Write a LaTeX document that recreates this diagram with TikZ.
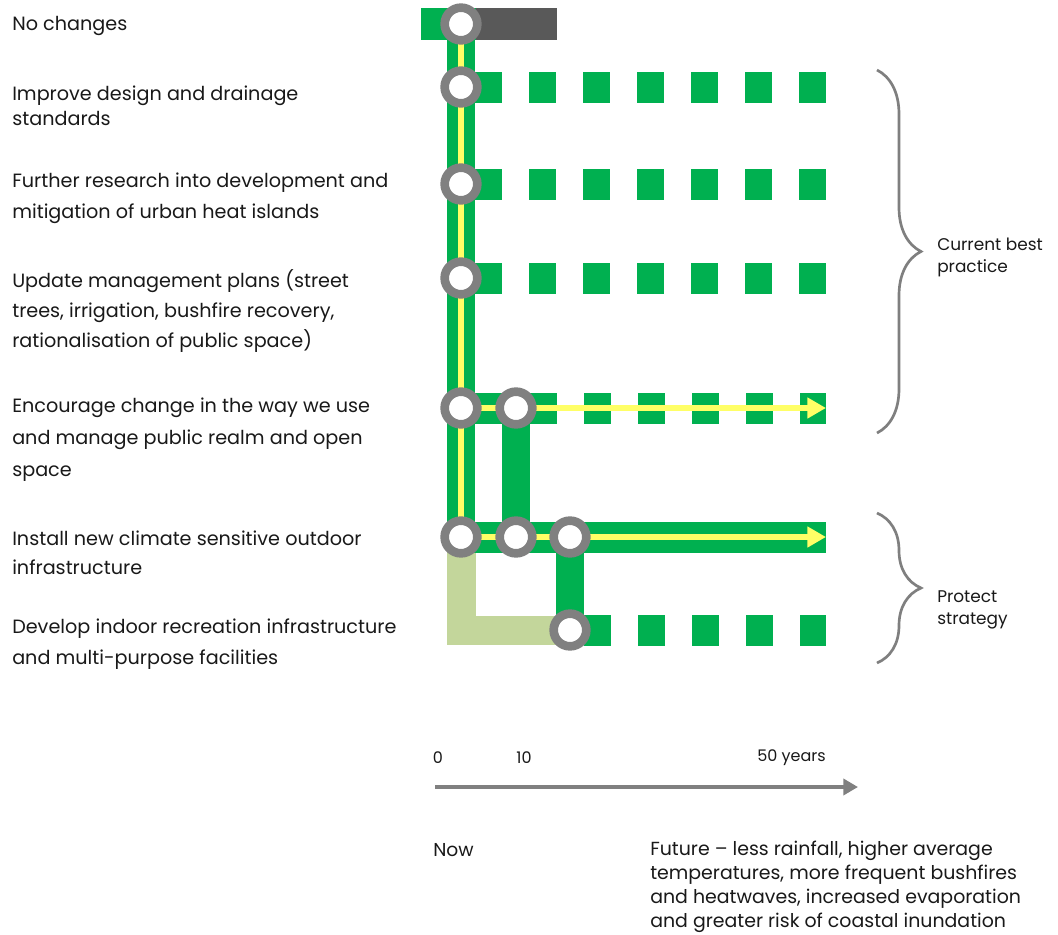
\documentclass[tikz,border=0pt]{standalone}
\usepackage{fontspec}
\setmainfont{Poppins}
\usetikzlibrary{arrows.meta,positioning,calc,decorations.pathreplacing}

\definecolor{trackgreen}{HTML}{00B050}
\definecolor{oldgreen}{HTML}{C3D69B}
\definecolor{darkbar}{HTML}{595959}
\definecolor{ringgrey}{HTML}{808080}
\definecolor{pathyellow}{HTML}{FFFF66}
\definecolor{bracegrey}{HTML}{7F7F7F}

\begin{document}
\begin{tikzpicture}[
    x=0.75pt, y=-0.75pt,
    track_solid/.style={draw=trackgreen, line width=23.25pt},
    track_vert/.style={draw=trackgreen, line width=21pt},
    track_dashed/.style={track_solid, dash pattern=on 20.25pt off 20.25pt, dash phase=20.25pt},
    track_old/.style={draw=oldgreen, line width=21.75pt, line join=miter},
    track_none/.style={draw=darkbar, line width=24pt},
    path_line/.style={draw=pathyellow, line width=4.5pt},
    path_arrow/.style={path_line, -{Triangle[length=14pt,width=15pt]}},
    stop_node/.style={circle, draw=ringgrey, fill=white, line width=6.5pt, minimum size=24.5pt, inner sep=0pt},
    act_lbl/.style={anchor=west, align=left, inner sep=0pt, text=black!90, font=\fontsize{14.4pt}{#1}\selectfont},
    act_lbl/.default=22.5pt,
    note_lbl/.style={anchor=west, align=left, inner sep=0pt, text=black!90, font=\fontsize{12pt}{#1}\selectfont},
    note_lbl/.default=18pt,
    brace_line/.style={draw=bracegrey, line width=2pt, decorate, decoration={brace, amplitude=33pt}},
    axis_arrow/.style={draw=ringgrey, line width=3.4pt, -{Triangle[length=11pt,width=12pt]}}
]
    \path[use as bounding box, fill=white] (0,0) rectangle (1058,935);

    % Stops
    \coordinate (s01) at (461,24);
    \coordinate (s11) at (461,87);
    \coordinate (s21) at (461,184);
    \coordinate (s31) at (461,278);
    \coordinate (s41) at (461,408);
    \coordinate (s42) at (516,408);
    \coordinate (s51) at (461,537);
    \coordinate (s52) at (516,537);
    \coordinate (s53) at (570,537);
    \coordinate (s63) at (570,630);

    % Track ends
    \coordinate (r0w) at (421,24);
    \coordinate (r0m) at (476,24);
    \coordinate (r0e) at (557,24);
    \coordinate (r1w) at (448,87);
    \coordinate (r1e) at (826,87);
    \coordinate (r2w) at (448,184);
    \coordinate (r2e) at (826,184);
    \coordinate (r3w) at (448,278);
    \coordinate (r3e) at (826,278);
    \coordinate (r4m) at (557,408);
    \coordinate (r4e) at (826,408);
    \coordinate (r5e) at (826,537);
    \coordinate (r6m) at (557,630);
    \coordinate (r6e) at (826,630);

    % Tracks
    \draw[track_old] (s51) |- (s63);
    \draw[track_vert] (s01) -- (s51);
    \draw[track_vert] (s42) -- (s52);
    \draw[track_vert] (s53) -- (s63);
    \draw[track_solid, line width=24pt] (r0w) -- (r0m);
    \draw[track_none] (r0m) -- (r0e);
    \draw[track_dashed] (r1w) -- (r1e);
    \draw[track_dashed] (r2w) -- (r2e);
    \draw[track_dashed] (r3w) -- (r3e);
    \draw[track_solid] (s41) -- (r4m);
    \draw[track_dashed] (r4m) -- (r4e);
    \draw[track_solid] (s51) -- (r5e);
    \draw[track_dashed] (r6m) -- (r6e);

    % Pathway
    \draw[path_line] (s01) -- (s51);
    \draw[path_arrow] (s41) -- (r4e);
    \draw[path_arrow] (s51) -- (r5e);

    % Decision points
    \foreach \s in {s01,s11,s21,s31,s41,s42,s51,s52,s53,s63}
        \node[stop_node] (n\s) at (\s) {};

    % Actions
    \node[act_lbl] (lbl_none) at (12,26) {No changes};
    \node[act_lbl=18.75pt] (lbl_design) at (12,106) {Improve design and drainage\\standards};
    \node[act_lbl=23.25pt] (lbl_heat) at (12,198) {Further research into development and\\mitigation of urban heat islands};
    \node[act_lbl=22.5pt] (lbl_plans) at (12,311) {Update management plans (street\\trees, irrigation, bushfire recovery,\\rationalisation of public space)};
    \node[act_lbl=24pt] (lbl_realm) at (12,440) {Encourage change in the way we use\\and manage public realm and open\\space};
    \node[act_lbl=21.75pt] (lbl_outdoor) at (12,553) {Install new climate sensitive outdoor\\infrastructure};
    \node[act_lbl=23.25pt] (lbl_indoor) at (12,644) {Develop indoor recreation infrastructure\\and multi-purpose facilities};

    % Braces
    \coordinate (bp_top) at (877,70);
    \coordinate (bp_bot) at (877,433);
    \coordinate (ps_top) at (877,513);
    \coordinate (ps_bot) at (877,663);
    \draw[brace_line] (bp_top) -- (bp_bot);
    \draw[brace_line] (ps_top) -- (ps_bot);
    \node[note_lbl=16.5pt, font=\fontsize{12.7pt}{16.5pt}\selectfont] (lbl_best) at (937,257) {Current best\\practice};
    \node[note_lbl=16.5pt, font=\fontsize{12.7pt}{16.5pt}\selectfont] (lbl_protect) at (937,610) {Protect\\strategy};

    % Time axis
    \coordinate (ax_start) at (435,787);
    \coordinate (ax_end) at (858,787);
    \draw[axis_arrow] (ax_start) -- (ax_end);
    \node[note_lbl, anchor=center] (lbl_t0) at (438,758) {0};
    \node[note_lbl, anchor=center] (lbl_t10) at (524,758) {10};
    \node[note_lbl, anchor=east] (lbl_t50) at (826,758) {50 years};
    \node[note_lbl, font=\fontsize{14pt}{18pt}\selectfont] (lbl_now) at (433,850) {Now};
    \node[note_lbl, font=\fontsize{14.2pt}{18pt}\selectfont] (lbl_future) at (650,887) {Future – less rainfall, higher average\\temperatures, more frequent bushfires\\and heatwaves, increased evaporation\\and greater risk of coastal inundation};
\end{tikzpicture}
\end{document}
